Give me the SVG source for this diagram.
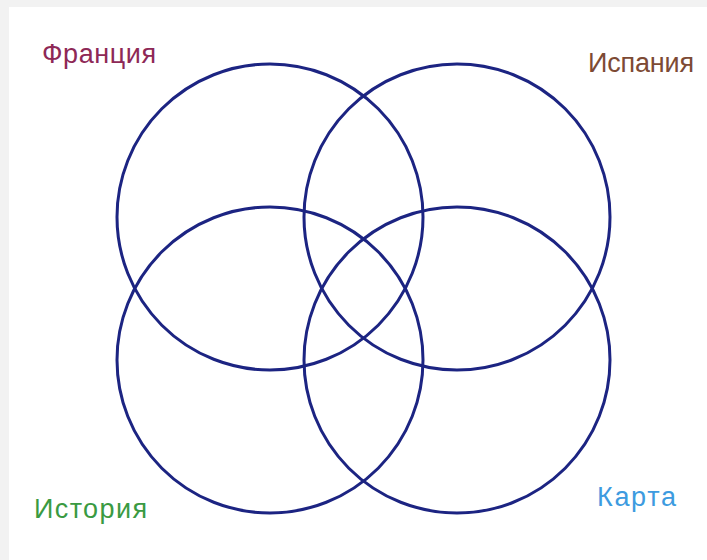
<svg xmlns="http://www.w3.org/2000/svg" width="707" height="560" viewBox="0 0 707 560">
<style>
.c{fill:none;stroke:#1c2482;stroke-width:3}
.t{font-family:"Liberation Sans",Arial,sans-serif;font-size:27px}
</style>
<rect x="0" y="0" width="707" height="560" fill="#f2f2f2"/>
<rect x="9" y="7" width="698" height="553" fill="#ffffff"/>
<g id="connectors"></g>
<g id="france"><circle class="c" cx="270" cy="217" r="153"/><text class="t" x="42" y="63" fill="#8e2856" textLength="114" lengthAdjust="spacing">Франция</text></g>
<g id="spain"><circle class="c" cx="457" cy="217" r="153"/><text class="t" x="588" y="72" fill="#7d4a34" textLength="106" lengthAdjust="spacing">Испания</text></g>
<g id="history"><circle class="c" cx="270" cy="360" r="153"/><text class="t" x="34" y="518" fill="#3a9a42" textLength="113" lengthAdjust="spacing">История</text></g>
<g id="map"><circle class="c" cx="457" cy="360" r="153"/><text class="t" x="597" y="506" fill="#3d9be0" textLength="79" lengthAdjust="spacing">Карта</text></g>
</svg>
